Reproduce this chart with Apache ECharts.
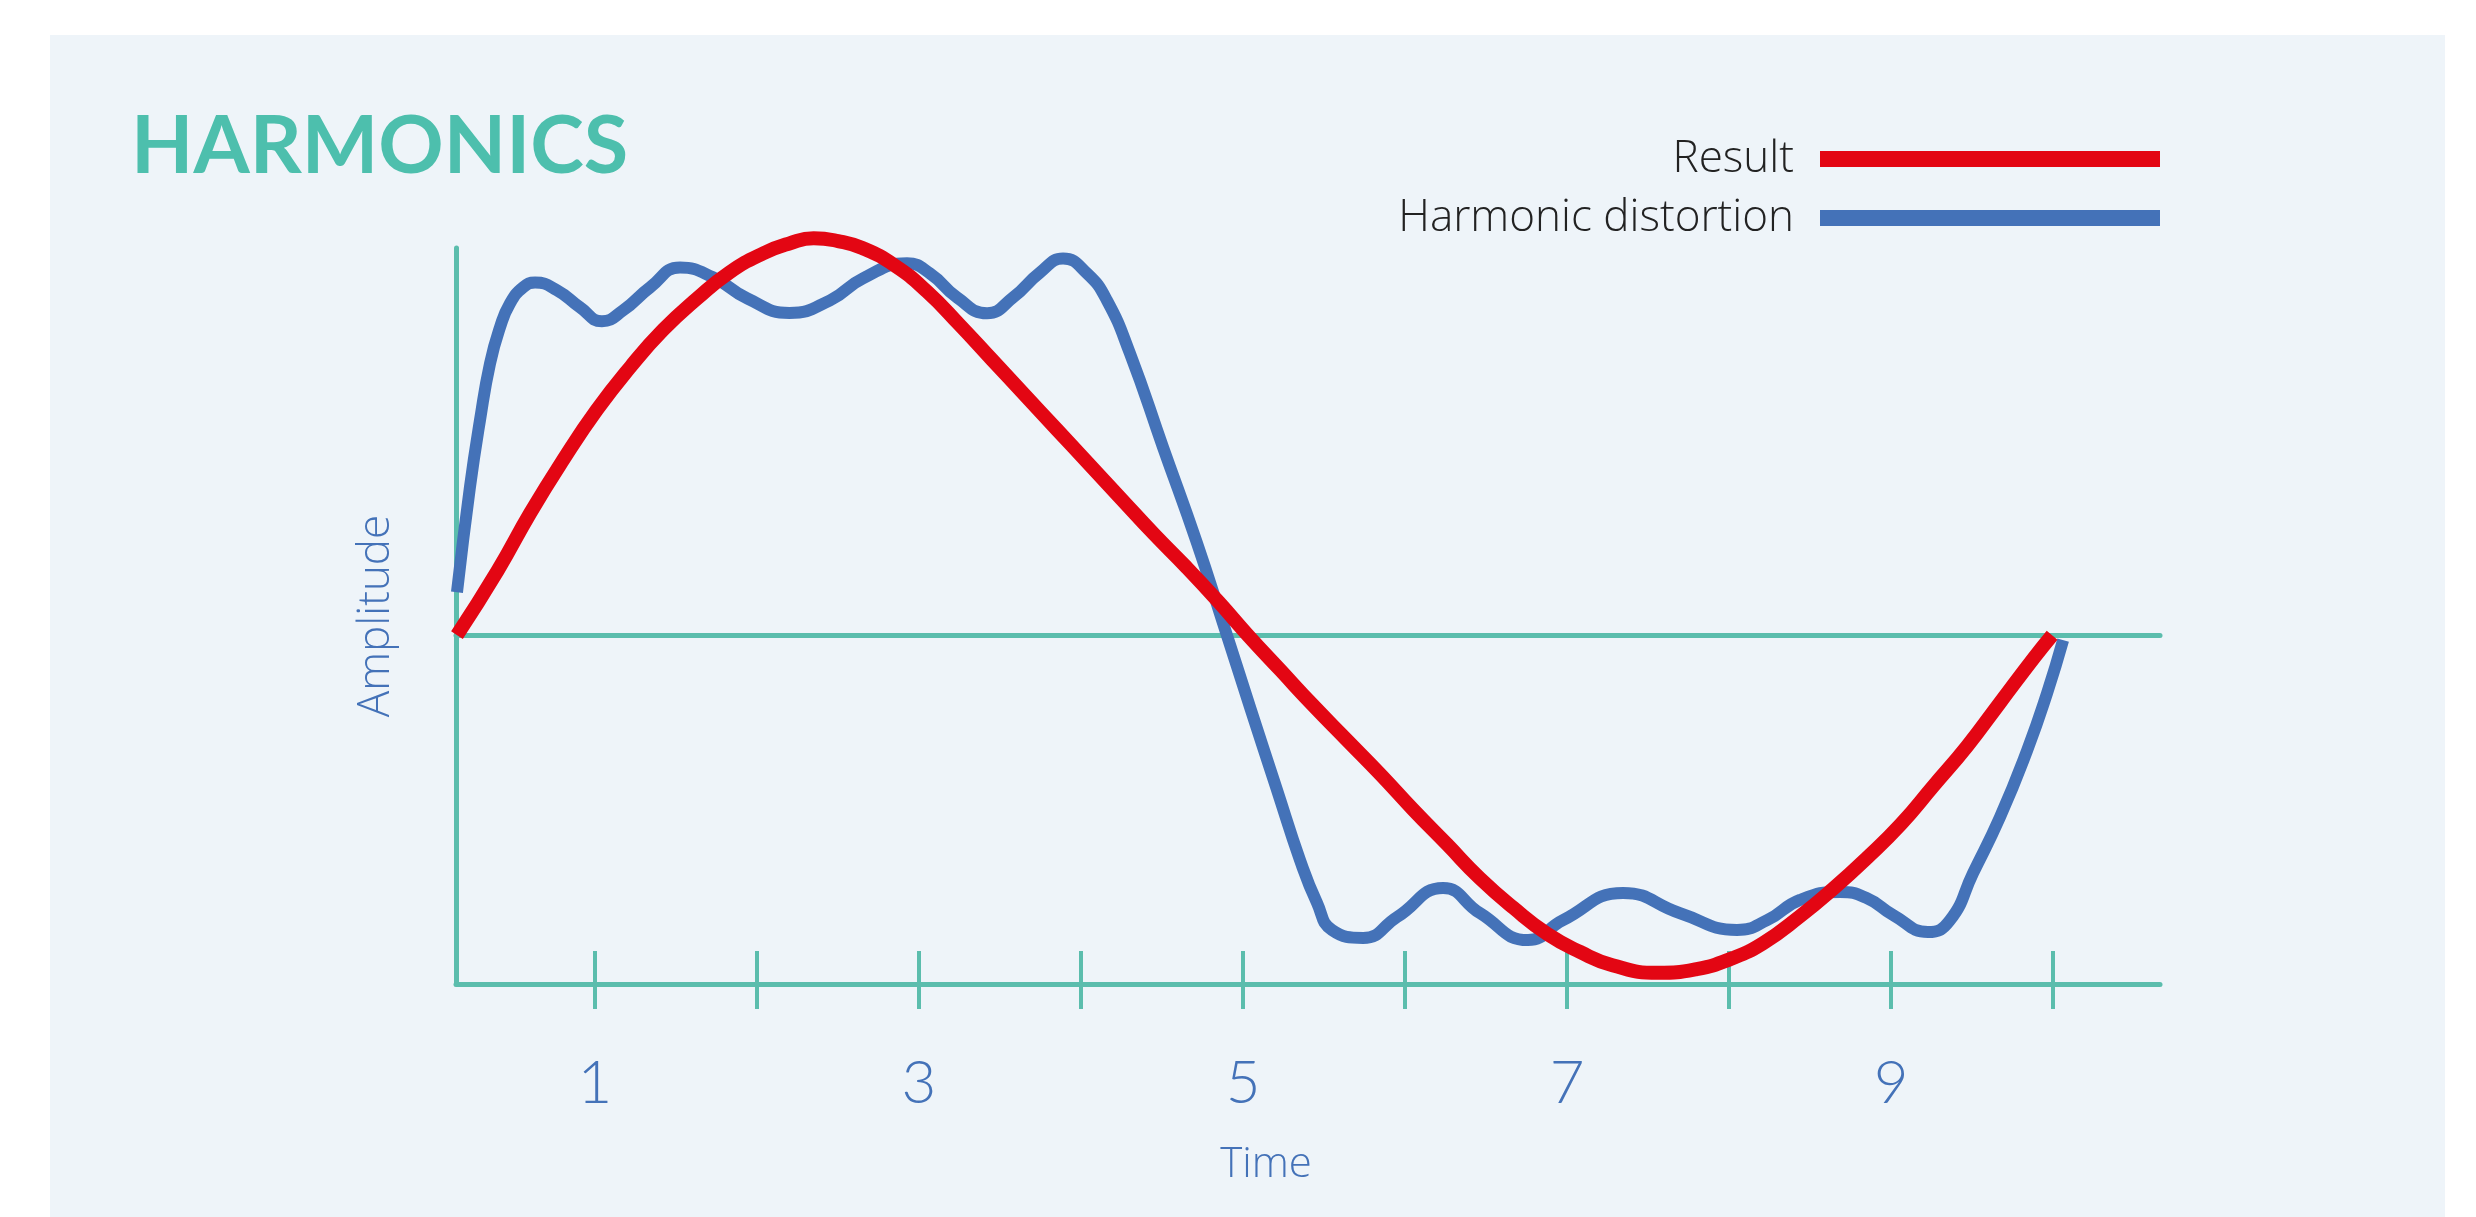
<!DOCTYPE html>
<html>
<head>
<meta charset="utf-8">
<title>Harmonics</title>
<script src="https://cdn.jsdelivr.net/npm/echarts@6/dist/echarts.min.js"></script>
<style>
  html, body { margin: 0; padding: 0; background: #ffffff; }
  #panel { position: absolute; left: 50px; top: 35px; width: 2395px; height: 1182px; background: #eef4f9; }
  #chart { position: absolute; left: 0; top: 0; width: 2476px; height: 1217px; }
</style>
</head>
<body>
<div id="panel"></div>
<div id="chart"></div>
<script>
// time positions (tick units) and amplitudes
const resultX = [0.148, 0.40, 0.60, 0.80, 1.01, 1.22, 1.42, 1.63, 1.83, 2.04, 2.20, 2.35, 2.50, 2.65, 2.85, 3.05, 3.25, 3.45, 3.65, 3.85, 4.05, 4.25, 4.45, 4.65, 4.85, 5.03, 5.23, 5.43, 5.64, 5.85, 6.05, 6.26, 6.46, 6.67, 6.88, 7.08, 7.28, 7.56, 7.80, 8.01, 8.21, 8.44, 8.64, 8.85, 9.06, 9.26, 9.47, 9.67, 9.88, 9.994];
const resultY = [0, 18.6, 35, 50, 64.5, 77, 87.5, 96.5, 104, 109.5, 112.3, 113.8, 113.0, 111, 106, 98.5, 89, 79, 69, 59, 49, 39, 29, 19.5, 9.5, 0, -10, -20, -30, -40, -50, -60, -69.6, -78.2, -85.7, -90.8, -94.6, -96.8, -95.7, -92.8, -88.3, -80.5, -72.8, -63.9, -54.2, -43.3, -31.8, -19.5, -6.6, 0];

const distortionX = [0.148, 0.228, 0.29, 0.352, 0.414, 0.475, 0.556, 0.63, 0.765, 0.907, 1.043, 1.173, 1.34, 1.525, 1.728, 1.938, 2.2, 2.451, 2.654, 2.926, 3.068, 3.235, 3.42, 3.58, 3.747, 3.889, 4.037, 4.16, 4.302, 4.506, 4.716, 4.877, 5.043, 5.21, 5.352, 5.457, 5.549, 5.741, 5.951, 6.235, 6.463, 6.759, 6.975, 7.346, 7.698, 8.049, 8.235, 8.438, 8.685, 8.852, 9.012, 9.228, 9.364, 9.506, 9.673, 9.84, 9.963, 10.062];
const distortionY = [12.3, 42.4, 61.6, 77.9, 88.3, 95.1, 99.7, 101.1, 98.9, 94.0, 90.0, 93.1, 99.7, 105.4, 102.6, 96.6, 92.4, 96.0, 102.3, 106.6, 103.7, 96.8, 92.3, 96.8, 104.0, 108.0, 103.7, 96.0, 80.8, 53.9, 26.4, 3.4, -20.6, -44.4, -64.5, -76.8, -84.5, -86.8, -80.8, -72.5, -79.7, -87.4, -81.7, -73.9, -79.7, -84.5, -81.7, -75.9, -73.6, -75.4, -80.2, -85.1, -81.7, -68.2, -52.1, -33.0, -16.6, -1.4];

const tickValues = [1, 2, 3, 4, 5, 6, 7, 8, 9, 10];
const labelValues = [1, 3, 5, 7, 9];

const xMin = 0.142;
const xMax = 10.66;
const yMin = -100;
const yMax = 111;

const teal = "#5bbdad";
const blue = "#4472b8";
const red = "#e30613";
const font = "Lato, 'Open Sans', sans-serif";
const lightFont = "'Open Sans', Lato, sans-serif";

function pairs(xs, ys) {
  return xs.map((x, i) => [x, ys[i]]);
}

const chart = echarts.init(document.getElementById("chart"), null, { renderer: "canvas" });

const hiddenAxisBits = {
  axisLabel: { show: false },
  splitLine: { show: false },
  axisTick: { show: false }
};

chart.setOption({
  backgroundColor: "transparent",
  animation: false,
  title: {
    text: "HARMONICS",
    left: 126,
    top: 101,
    textStyle: { color: "#4dbfad", fontFamily: font, fontWeight: "bold", fontSize: 81 }
  },
  legend: {
    orient: "vertical",
    right: 311,
    top: 129,
    align: "right",
    icon: "rect",
    itemWidth: 340,
    itemHeight: 16,
    itemGap: 9,
    textStyle: {
      color: "#222222",
      fontFamily: lightFont,
      fontWeight: 300,
      fontSize: 44,
      lineHeight: 50,
      padding: [0, 21, 0, 0]
    },
    data: ["Result", "Harmonic distortion"]
  },
  grid: { left: 456, right: 316, top: 248, bottom: 233, containLabel: false, outerBoundsMode: "none" },
  xAxis: [
    {
      type: "value",
      min: xMin,
      max: xMax,
      position: "bottom",
      name: "Time",
      nameLocation: "middle",
      nameGap: 160,
      nameTextStyle: { color: blue, fontFamily: lightFont, fontWeight: 300, fontSize: 42, padding: [0, 84, 0, 0] },
      axisLine: { show: true, onZero: false, lineStyle: { color: teal, width: 5 } },
      axisTick: { show: true, inside: true, length: 33, customValues: tickValues, lineStyle: { color: teal, width: 4 } },
      axisLabel: {
        show: true,
        customValues: labelValues,
        margin: 70,
        color: blue,
        fontFamily: font,
        fontWeight: 300,
        fontSize: 60
      },
      splitLine: { show: false }
    },
    {
      type: "value",
      min: xMin,
      max: xMax,
      position: "bottom",
      axisLine: { show: false, onZero: false },
      axisTick: { show: true, inside: false, length: 25, customValues: tickValues, lineStyle: { color: teal, width: 4 } },
      axisLabel: { show: false },
      splitLine: { show: false }
    },
    Object.assign({
      type: "value",
      min: xMin,
      max: xMax,
      position: "bottom",
      axisLine: { show: true, onZero: true, lineStyle: { color: teal, width: 5 } }
    }, hiddenAxisBits)
  ],
  yAxis: Object.assign({
    type: "value",
    min: yMin,
    max: yMax,
    name: "Amplitude",
    nameLocation: "middle",
    nameGap: 58,
    nameTextStyle: { color: blue, fontFamily: lightFont, fontWeight: 300, fontSize: 44 },
    axisLine: { show: true, onZero: false, lineStyle: { color: teal, width: 5 } }
  }, hiddenAxisBits),
  series: [
    {
      name: "Result",
      type: "line",
      data: pairs(resultX, resultY),
      showSymbol: false,
      smooth: 0.5,
      clip: false,
      z: 4,
      color: red,
      lineStyle: { color: red, width: 14, cap: "butt", join: "round" }
    },
    {
      name: "Harmonic distortion",
      type: "line",
      data: pairs(distortionX, distortionY),
      showSymbol: false,
      smooth: 0.5,
      clip: false,
      z: 3,
      color: blue,
      lineStyle: { color: blue, width: 12, cap: "butt", join: "round" }
    }
  ]
});
</script>
</body>
</html>
